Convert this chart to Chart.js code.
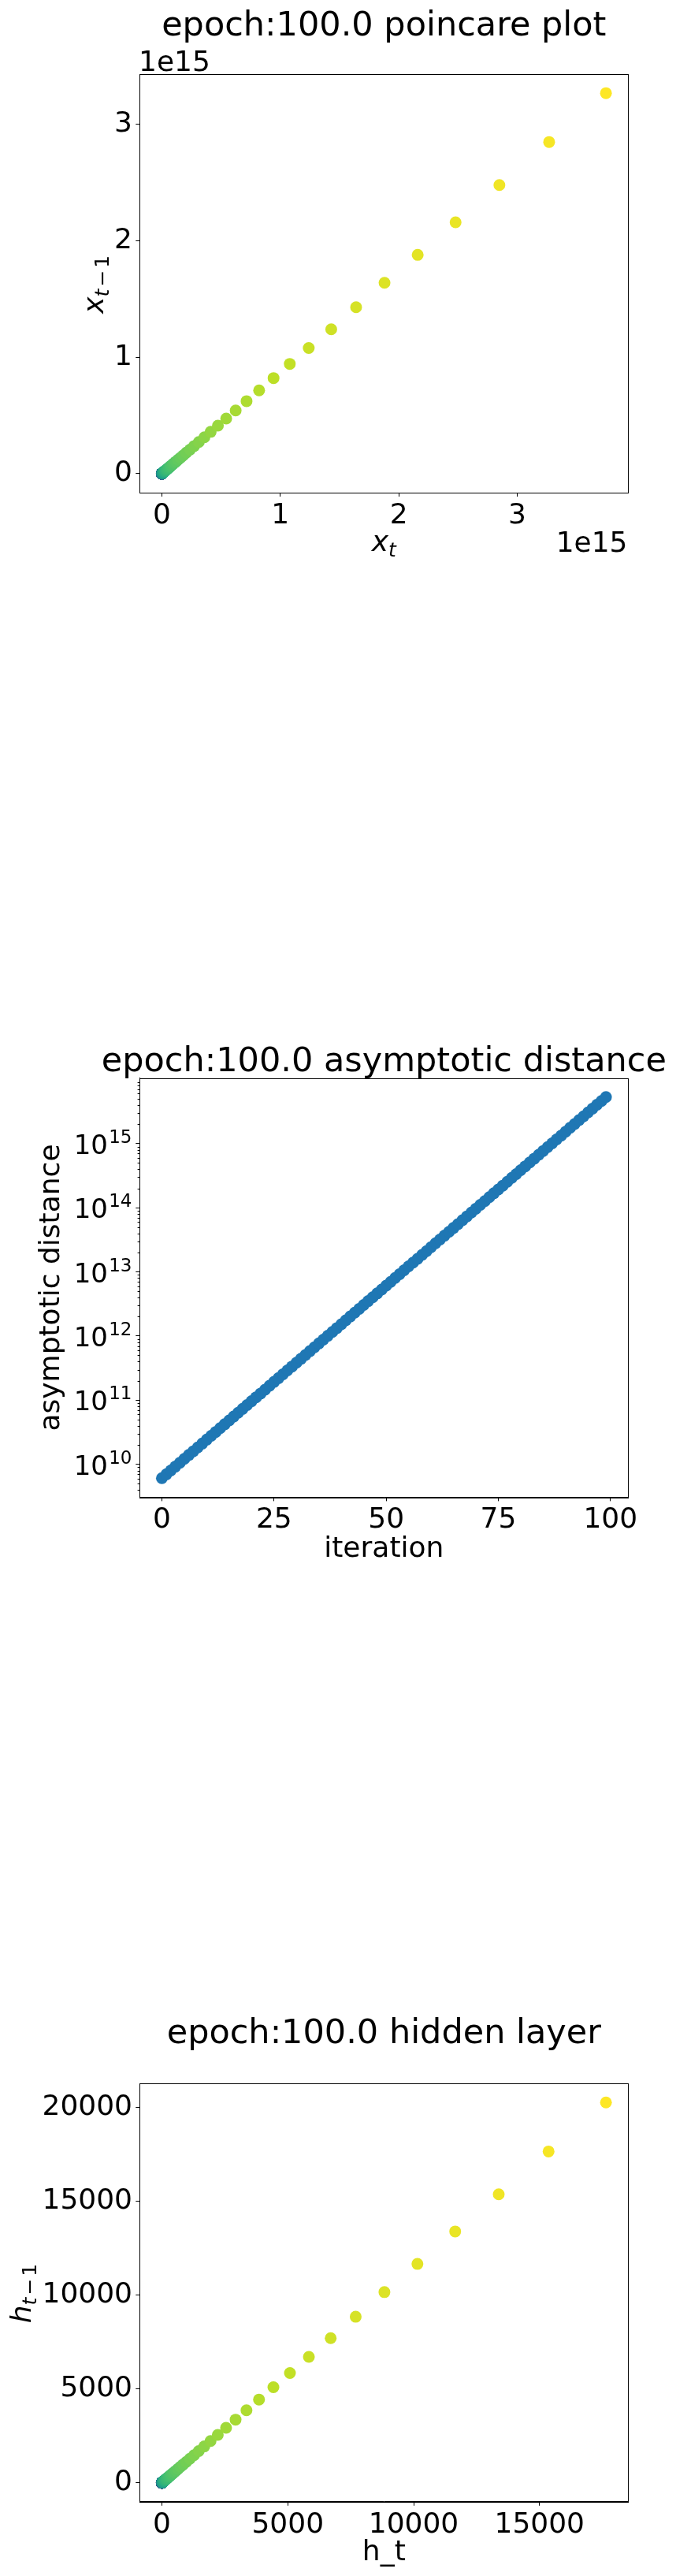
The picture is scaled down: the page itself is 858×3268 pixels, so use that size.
<!DOCTYPE html>
<html>
<head>
<meta charset="utf-8">
<title>epoch:100.0</title>
<script src="https://cdn.jsdelivr.net/npm/chart.js@4.4.1/dist/chart.umd.min.js"></script>
<style>
    html, body { margin: 0; padding: 0; background: #fff; }
    body { position: relative; width: 858px; height: 3268px; overflow: hidden; }
    canvas { position: absolute; left: 0; }
</style>
</head>
<body>
<canvas id="poincare-chart" width="858" height="760" style="top:0px"></canvas>
<canvas id="distance-chart" width="858" height="720" style="top:1300px"></canvas>
<canvas id="hidden-chart" width="858" height="748" style="top:2520px"></canvas>
<script>
// x_t series (x = series[t], y = series[t-1])
const poincareSeries = [
    4.31e9, 4.95e9, 5.68e9, 6.52e9, 7.49e9, 8.60e9, 9.87e9, 1.13e10, 1.30e10, 1.49e10,
    1.72e10, 1.97e10, 2.26e10, 2.60e10, 2.98e10, 3.42e10, 3.93e10, 4.51e10, 5.18e10, 5.95e10,
    6.83e10, 7.84e10, 9.01e10, 1.03e11, 1.19e11, 1.36e11, 1.57e11, 1.80e11, 2.06e11, 2.37e11,
    2.72e11, 3.12e11, 3.59e11, 4.12e11, 4.73e11, 5.43e11, 6.23e11, 7.15e11, 8.21e11, 9.43e11,
    1.08e12, 1.24e12, 1.43e12, 1.64e12, 1.88e12, 2.16e12, 2.48e12, 2.85e12, 3.27e12, 3.75e12,
    4.31e12, 4.95e12, 5.68e12, 6.52e12, 7.49e12, 8.60e12, 9.87e12, 1.13e13, 1.30e13, 1.49e13,
    1.72e13, 1.97e13, 2.26e13, 2.60e13, 2.98e13, 3.42e13, 3.93e13, 4.51e13, 5.18e13, 5.95e13,
    6.83e13, 7.84e13, 9.01e13, 1.03e14, 1.19e14, 1.36e14, 1.57e14, 1.80e14, 2.06e14, 2.37e14,
    2.72e14, 3.12e14, 3.59e14, 4.12e14, 4.73e14, 5.43e14, 6.23e14, 7.15e14, 8.21e14, 9.43e14,
    1.08e15, 1.24e15, 1.43e15, 1.64e15, 1.88e15, 2.16e15, 2.48e15, 2.85e15, 3.27e15, 3.75e15
];

// asymptotic distance per iteration (0..99)
const asymptoticDistance = [
    6.10e9, 7.00e9, 8.04e9, 9.23e9, 1.06e10, 1.22e10, 1.40e10, 1.60e10, 1.84e10, 2.11e10,
    2.43e10, 2.79e10, 3.20e10, 3.67e10, 4.22e10, 4.84e10, 5.56e10, 6.38e10, 7.33e10, 8.42e10,
    9.66e10, 1.11e11, 1.27e11, 1.46e11, 1.68e11, 1.93e11, 2.21e11, 2.54e11, 2.92e11, 3.35e11,
    3.85e11, 4.42e11, 5.07e11, 5.82e11, 6.68e11, 7.67e11, 8.81e11, 1.01e12, 1.16e12, 1.33e12,
    1.53e12, 1.76e12, 2.02e12, 2.32e12, 2.66e12, 3.06e12, 3.51e12, 4.03e12, 4.62e12, 5.31e12,
    6.10e12, 7.00e12, 8.04e12, 9.23e12, 1.06e13, 1.22e13, 1.40e13, 1.60e13, 1.84e13, 2.11e13,
    2.43e13, 2.79e13, 3.20e13, 3.67e13, 4.22e13, 4.84e13, 5.56e13, 6.38e13, 7.33e13, 8.42e13,
    9.66e13, 1.11e14, 1.27e14, 1.46e14, 1.68e14, 1.93e14, 2.21e14, 2.54e14, 2.92e14, 3.35e14,
    3.85e14, 4.42e14, 5.07e14, 5.82e14, 6.68e14, 7.67e14, 8.81e14, 1.01e15, 1.16e15, 1.33e15,
    1.53e15, 1.76e15, 2.02e15, 2.32e15, 2.66e15, 3.06e15, 3.51e15, 4.03e15, 4.62e15, 5.31e15
];

// hidden layer series (x = series[t], y = series[t+1])
const hiddenSeries = [
    0.0233, 0.0267, 0.0307, 0.0352, 0.0404, 0.0464, 0.0533, 0.0612, 0.0702, 0.0806,
    0.0926, 0.106, 0.122, 0.140, 0.161, 0.185, 0.212, 0.243, 0.280, 0.321,
    0.369, 0.423, 0.486, 0.558, 0.640, 0.735, 0.844, 0.969, 1.11, 1.28,
    1.47, 1.69, 1.93, 2.22, 2.55, 2.93, 3.36, 3.86, 4.43, 5.09,
    5.84, 6.71, 7.70, 8.84, 10.1, 11.6, 13.4, 15.4, 17.6, 20.2,
    23.3, 26.7, 30.7, 35.2, 40.4, 46.4, 53.3, 61.1, 70.2, 80.6,
    92.6, 106, 122, 140, 161, 185, 212, 243, 280, 321,
    369, 423, 486, 558, 640, 735, 844, 969, 1112, 1278,
    1466, 1685, 1933, 2220, 2549, 2927, 3360, 3858, 4430, 5086,
    5839, 6705, 7698, 8839, 10150, 11650, 13380, 15360, 17640, 20250
];

// tick values
const poincareTicks  = [0, 1e15, 2e15, 3e15];
const iterationTicks = [0, 25, 50, 75, 100];
const distanceTicks  = [1e10, 1e11, 1e12, 1e13, 1e14, 1e15];
const hiddenXTicks   = [0, 5000, 10000, 15000];
const hiddenYTicks   = [0, 5000, 10000, 15000, 20000];

const FONT = 'DejaVu Sans';
Chart.defaults.font.family = FONT;
Chart.defaults.color = '#000';

// viridis colormap
const viridisStops = ['#440154', '#482475', '#414487', '#355f8d', '#2a788e', '#21918c',
                      '#22a884', '#44bf70', '#7ad151', '#bddf26', '#fde725'];
function hexToRgb(h) {
    return [parseInt(h.substr(1, 2), 16), parseInt(h.substr(3, 2), 16), parseInt(h.substr(5, 2), 16)];
}
function viridis(t) {
    const pos = Math.min(Math.max(t, 0), 1) * (viridisStops.length - 1);
    const i = Math.min(Math.floor(pos), viridisStops.length - 2);
    const f = pos - i;
    const a = hexToRgb(viridisStops[i]), b = hexToRgb(viridisStops[i + 1]);
    const c = a.map(function (v, k) { return Math.round(v + (b[k] - v) * f); });
    return 'rgb(' + c.join(',') + ')';
}

// matplotlib style 5% margins
function padded(values) {
    const lo = Math.min.apply(null, values), hi = Math.max.apply(null, values);
    const m = (hi - lo) * 0.05;
    return { min: lo - m, max: hi + m };
}
function paddedLog(values) {
    const lo = Math.log10(Math.min.apply(null, values)), hi = Math.log10(Math.max.apply(null, values));
    const m = (hi - lo) * 0.05;
    return { min: Math.pow(10, lo - m), max: Math.pow(10, hi + m) };
}

function fixedTicks(values) {
    return function (scale) { scale.ticks = values.map(function (v) { return { value: v }; }); };
}

function fontOf(r) {
    return (r.italic ? 'italic ' : '') + r.size + 'px "' + FONT + '"';
}

// draws a row of text runs (titles, math labels with subscripts)
function drawRuns(ctx, item) {
    ctx.save();
    ctx.translate(item.x, item.y);
    if (item.rotate) ctx.rotate(-Math.PI / 2);
    ctx.fillStyle = '#000';
    ctx.textBaseline = 'alphabetic';
    ctx.textAlign = 'left';
    let total = 0;
    const widths = item.runs.map(function (r) {
        ctx.font = fontOf(r);
        const w = ctx.measureText(r.text).width + (r.gap || 0) * 2;
        total += w;
        return w;
    });
    let cx = item.align === 'right' ? -total : (item.align === 'left' ? 0 : -total / 2);
    item.runs.forEach(function (r, i) {
        ctx.font = fontOf(r);
        ctx.fillText(r.text, cx + (r.gap || 0), r.dy || 0);
        cx += widths[i];
    });
    ctx.restore();
}

// frame + free text of a figure
function figurePlugin(texts) {
    return {
        id: 'figure',
        afterDraw: function (chart) {
            const ctx = chart.ctx, a = chart.chartArea;
            ctx.save();
            ctx.strokeStyle = '#000';
            ctx.lineWidth = 1;
            ctx.strokeRect(Math.round(a.left) + 0.5, Math.round(a.top) + 0.5,
                           Math.round(a.right - a.left), Math.round(a.bottom - a.top));
            ctx.restore();
            texts.forEach(function (t) { drawRuns(chart.ctx, t); });
        }
    };
}

// 10^n labels and minor ticks of the log axis
const logAxisPlugin = {
    id: 'logAxis',
    afterDraw: function (chart) {
        const ctx = chart.ctx, scale = chart.scales.y, a = chart.chartArea;
        ctx.save();
        ctx.strokeStyle = '#000';
        ctx.lineWidth = 1;
        for (let n = 9; n <= 16; n++) {
            for (let k = 2; k <= 9; k++) {
                const v = k * Math.pow(10, n);
                if (v < scale.min || v > scale.max) continue;
                const y = Math.round(scale.getPixelForValue(v)) + 0.5;
                ctx.beginPath();
                ctx.moveTo(a.left - 2.7, y);
                ctx.lineTo(a.left, y);
                ctx.stroke();
            }
        }
        ctx.fillStyle = '#000';
        ctx.textBaseline = 'alphabetic';
        ctx.textAlign = 'left';
        scale.ticks.forEach(function (t) {
            const y = scale.getPixelForValue(t.value);
            const exp = String(Math.round(Math.log10(t.value)));
            ctx.font = '23px "' + FONT + '"';
            const wSup = ctx.measureText(exp).width;
            const supX = 167.5 - wSup;
            ctx.fillText(exp, supX, y - 1);
            ctx.font = '34px "' + FONT + '"';
            const wTen = ctx.measureText('10').width;
            ctx.fillText('10', supX - 1.3 - wTen, y + 13);
        });
        ctx.restore();
    }
};

function baseScale(extra) {
    const s = {
        type: 'linear',
        grid: { display: true, drawOnChartArea: false, drawTicks: true, tickLength: 5, color: '#000', lineWidth: 1 },
        border: { display: true, color: '#000', width: 1 },
        ticks: { font: { size: 36 }, color: '#000', maxRotation: 0, autoSkip: false }
    };
    return Object.assign(s, extra);
}

function chartOptions(top, scales) {
    return {
        responsive: false,
        animation: false,
        events: [],
        layout: { padding: { left: 0, right: 60.7, top: top, bottom: 0 } },
        plugins: {
            legend: { display: false },
            tooltip: { enabled: false },
            title: { display: false }
        },
        scales: scales
    };
}

// ---- poincare plot ----
const poincarePoints = poincareSeries.slice(1).map(function (v, i) {
    return { x: v, y: poincareSeries[i] };
});
const pX = padded(poincarePoints.map(function (p) { return p.x; }));
const pY = padded(poincarePoints.map(function (p) { return p.y; }));

new Chart(document.getElementById('poincare-chart'), {
    type: 'scatter',
    data: {
        datasets: [{
            data: poincarePoints,
            pointRadius: 7.5,
            pointHoverRadius: 7.5,
            pointBorderWidth: 0,
            pointBackgroundColor: poincarePoints.map(function (p, i) { return viridis(i / (poincarePoints.length - 1)); })
        }]
    },
    options: chartOptions(94, {
        x: baseScale({
            min: pX.min, max: pX.max,
            afterBuildTicks: fixedTicks(poincareTicks),
            afterFit: function (scale) { scale.height = 135; },
            ticks: { font: { size: 36 }, color: '#000', padding: 3, maxRotation: 0, autoSkip: false,
                     callback: function (v) { return String(Math.round(v / 1e15)); } }
        }),
        y: baseScale({
            min: pY.min, max: pY.max,
            afterBuildTicks: fixedTicks(poincareTicks),
            afterFit: function (scale) { scale.width = 177.3; },
            ticks: { font: { size: 36 }, color: '#000', padding: 4.3, autoSkip: false,
                     callback: function (v) { return String(Math.round(v / 1e15)); } }
        })
    }),
    plugins: [figurePlugin([
        { x: 487.3, y: 44.8, runs: [{ text: 'epoch:100.0 poincare plot', size: 43 }] },
        { x: 176, y: 90, align: 'left', runs: [{ text: '1e15', size: 36 }] },
        { x: 796.5, y: 700, align: 'right', runs: [{ text: '1e15', size: 36 }] },
        { x: 487.3, y: 698.6, runs: [{ text: 'x', size: 36, italic: true }, { text: 't', size: 25, italic: true, dy: 7 }] },
        { x: 130.7, y: 360.7, rotate: true, runs: [
            { text: 'x', size: 36, italic: true },
            { text: 't', size: 25, italic: true, dy: 7 },
            { text: '\u2212', size: 25, dy: 7, gap: 3 },
            { text: '1', size: 25, dy: 7 }
        ] }
    ])]
});

// ---- asymptotic distance ----
const distancePoints = asymptoticDistance.map(function (v, i) { return { x: i, y: v }; });
const dX = padded(distancePoints.map(function (p) { return p.x; }));
const dY = paddedLog(asymptoticDistance);

new Chart(document.getElementById('distance-chart'), {
    type: 'scatter',
    data: {
        datasets: [{
            data: distancePoints,
            pointRadius: 7.5,
            pointHoverRadius: 7.5,
            pointBorderWidth: 0,
            pointBackgroundColor: '#1f77b4'
        }]
    },
    options: chartOptions(67.6, {
        x: baseScale({
            min: dX.min, max: dX.max,
            afterBuildTicks: fixedTicks(iterationTicks),
            afterFit: function (scale) { scale.height = 120.6; },
            ticks: { font: { size: 36 }, color: '#000', padding: 3, maxRotation: 0, autoSkip: false }
        }),
        y: baseScale({
            type: 'logarithmic',
            min: dY.min, max: dY.max,
            afterBuildTicks: fixedTicks(distanceTicks),
            afterFit: function (scale) { scale.width = 177.3; },
            ticks: { display: false }
        })
    }),
    plugins: [logAxisPlugin, figurePlugin([
        { x: 487.3, y: 58.8, runs: [{ text: 'epoch:100.0 asymptotic distance', size: 43 }] },
        { x: 487.3, y: 675, runs: [{ text: 'iteration', size: 36 }] },
        { x: 75, y: 333.5, rotate: true, runs: [{ text: 'asymptotic distance', size: 36 }] }
    ])]
});

// ---- hidden layer ----
const hiddenPoints = hiddenSeries.slice(0, -1).map(function (v, i) {
    return { x: v, y: hiddenSeries[i + 1] };
});
const hX = padded(hiddenPoints.map(function (p) { return p.x; }));
const hY = padded(hiddenPoints.map(function (p) { return p.y; }));

new Chart(document.getElementById('hidden-chart'), {
    type: 'scatter',
    data: {
        datasets: [{
            data: hiddenPoints,
            pointRadius: 7.5,
            pointHoverRadius: 7.5,
            pointBorderWidth: 0,
            pointBackgroundColor: hiddenPoints.map(function (p, i) { return viridis(i / (hiddenPoints.length - 1)); })
        }]
    },
    options: chartOptions(123.1, {
        x: baseScale({
            min: hX.min, max: hX.max,
            afterBuildTicks: fixedTicks(hiddenXTicks),
            afterFit: function (scale) { scale.height = 94.2; },
            ticks: { font: { size: 36 }, color: '#000', padding: 3, maxRotation: 0, autoSkip: false,
                     callback: function (v) { return String(v); } }
        }),
        y: baseScale({
            min: hY.min, max: hY.max,
            afterBuildTicks: fixedTicks(hiddenYTicks),
            afterFit: function (scale) { scale.width = 177.3; },
            ticks: { font: { size: 36 }, color: '#000', padding: 4.3, autoSkip: false,
                     callback: function (v) { return String(v); } }
        })
    }),
    plugins: [figurePlugin([
        { x: 487.3, y: 71.7, runs: [{ text: 'epoch:100.0 hidden layer', size: 43 }] },
        { x: 487.3, y: 728.3, runs: [{ text: 'h_t', size: 36 }] },
        { x: 38.7, y: 389.5, rotate: true, runs: [
            { text: 'h', size: 36, italic: true },
            { text: 't', size: 25, italic: true, dy: 7 },
            { text: '\u2212', size: 25, dy: 7, gap: 3 },
            { text: '1', size: 25, dy: 7 }
        ] }
    ])]
});
</script>
</body>
</html>
